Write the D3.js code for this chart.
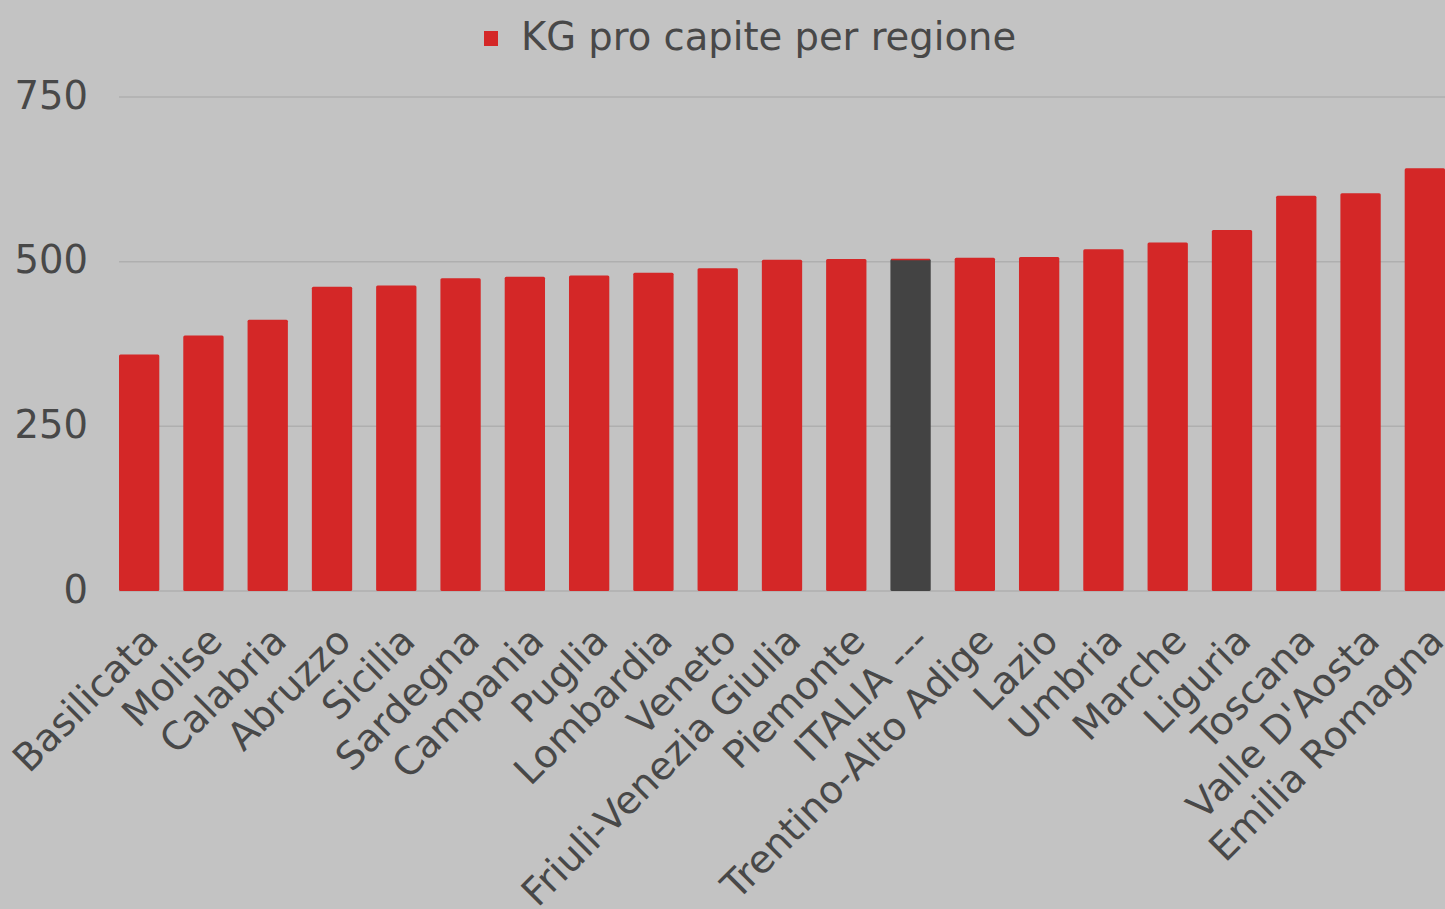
<!DOCTYPE html>
<html>
<head>
<meta charset="utf-8">
<script src="https://cdn.jsdelivr.net/npm/d3@7"></script>
<style>
  html, body { margin: 0; padding: 0; background: #c3c3c3; overflow: hidden; }
  svg { display: block; }
  text { font-family: "DejaVu Sans", "Inter", sans-serif; fill: #484848; }
</style>
</head>
<body>
<svg id="chart" width="1445" height="909"></svg>
<script>
const categories = ["Basilicata","Molise","Calabria","Abruzzo","Sicilia","Sardegna","Campania","Puglia","Lombardia","Veneto","Friuli-Venezia Giulia","Piemonte","ITALIA ---","Trentino-Alto Adige","Lazio","Umbria","Marche","Liguria","Toscana","Valle D'Aosta","Emilia Romagna"];
const values = [359,388,412,462,464,475,477,479,483,490,503,504,504,506,507,519,529,548,600,604,642];
const highlight = "ITALIA ---";
const yTicks = [0,250,500,750];
const seriesName = "KG pro capite per regione";

const W = 1445, H = 909;
const svg = d3.select("#chart");
svg.append("rect").attr("width", W).attr("height", H).attr("fill", "#c3c3c3");

const x = d3.scaleBand().domain(categories).range([119, 1445]).paddingInner(0.373).paddingOuter(0);
const y = d3.scaleLinear().domain([0, 750]).range([591, 97]);

// fit font size so that the legend text has roughly the reference's width
const probe = svg.append("text").attr("font-size", 100).text(seriesName);
const wProbe = probe.node().getComputedTextLength();
probe.remove();
let FS = 100 * 502 / wProbe;
FS = Math.max(28, Math.min(38.5, FS));

// gridlines
svg.append("g").selectAll("line").data(yTicks).join("line")
  .attr("x1", 119).attr("x2", W)
  .attr("y1", d => y(d)).attr("y2", d => y(d))
  .attr("stroke", "#afafaf").attr("stroke-width", 1.5);

// y tick labels
svg.append("g").selectAll("text").data(yTicks).join("text")
  .attr("x", 88).attr("y", d => y(d))
  .attr("dy", "0.3em")
  .attr("text-anchor", "end")
  .attr("font-size", FS)
  .text(d => d);

// bars
const data = categories.map((c, i) => ({c, v: values[i]}));
svg.append("g").selectAll("rect").data(data).join("rect")
  .attr("x", d => x(d.c))
  .attr("width", x.bandwidth())
  .attr("y", d => y(d.v))
  .attr("height", d => y(0) - y(d.v))
  .attr("rx", 1.5)
  .attr("fill", d => d.c === highlight ? "#434343" : "#d42727");

// red top edge on highlighted bar
svg.append("g").selectAll("line").data(data.filter(d => d.c === highlight)).join("line")
  .attr("x1", d => x(d.c) + 1).attr("x2", d => x(d.c) + x.bandwidth() - 1)
  .attr("y1", d => y(d.v) + 0.5).attr("y2", d => y(d.v) + 0.5)
  .attr("stroke", "#d42727").attr("stroke-width", 1.5);

// category labels
svg.append("g").selectAll("text").data(categories).join("text")
  .attr("text-anchor", "end")
  .attr("font-size", FS)
  .attr("transform", d => `translate(${x(d) + x.bandwidth()/2 + 21},643) rotate(-45)`)
  .text(d => d);

// legend
const leg = svg.append("g");
leg.append("rect").attr("x", 484).attr("y", 31).attr("width", 14).attr("height", 15).attr("fill", "#d42727");
leg.append("text").attr("x", 521).attr("y", 50).attr("font-size", FS).text(seriesName);
</script>
</body>
</html>
